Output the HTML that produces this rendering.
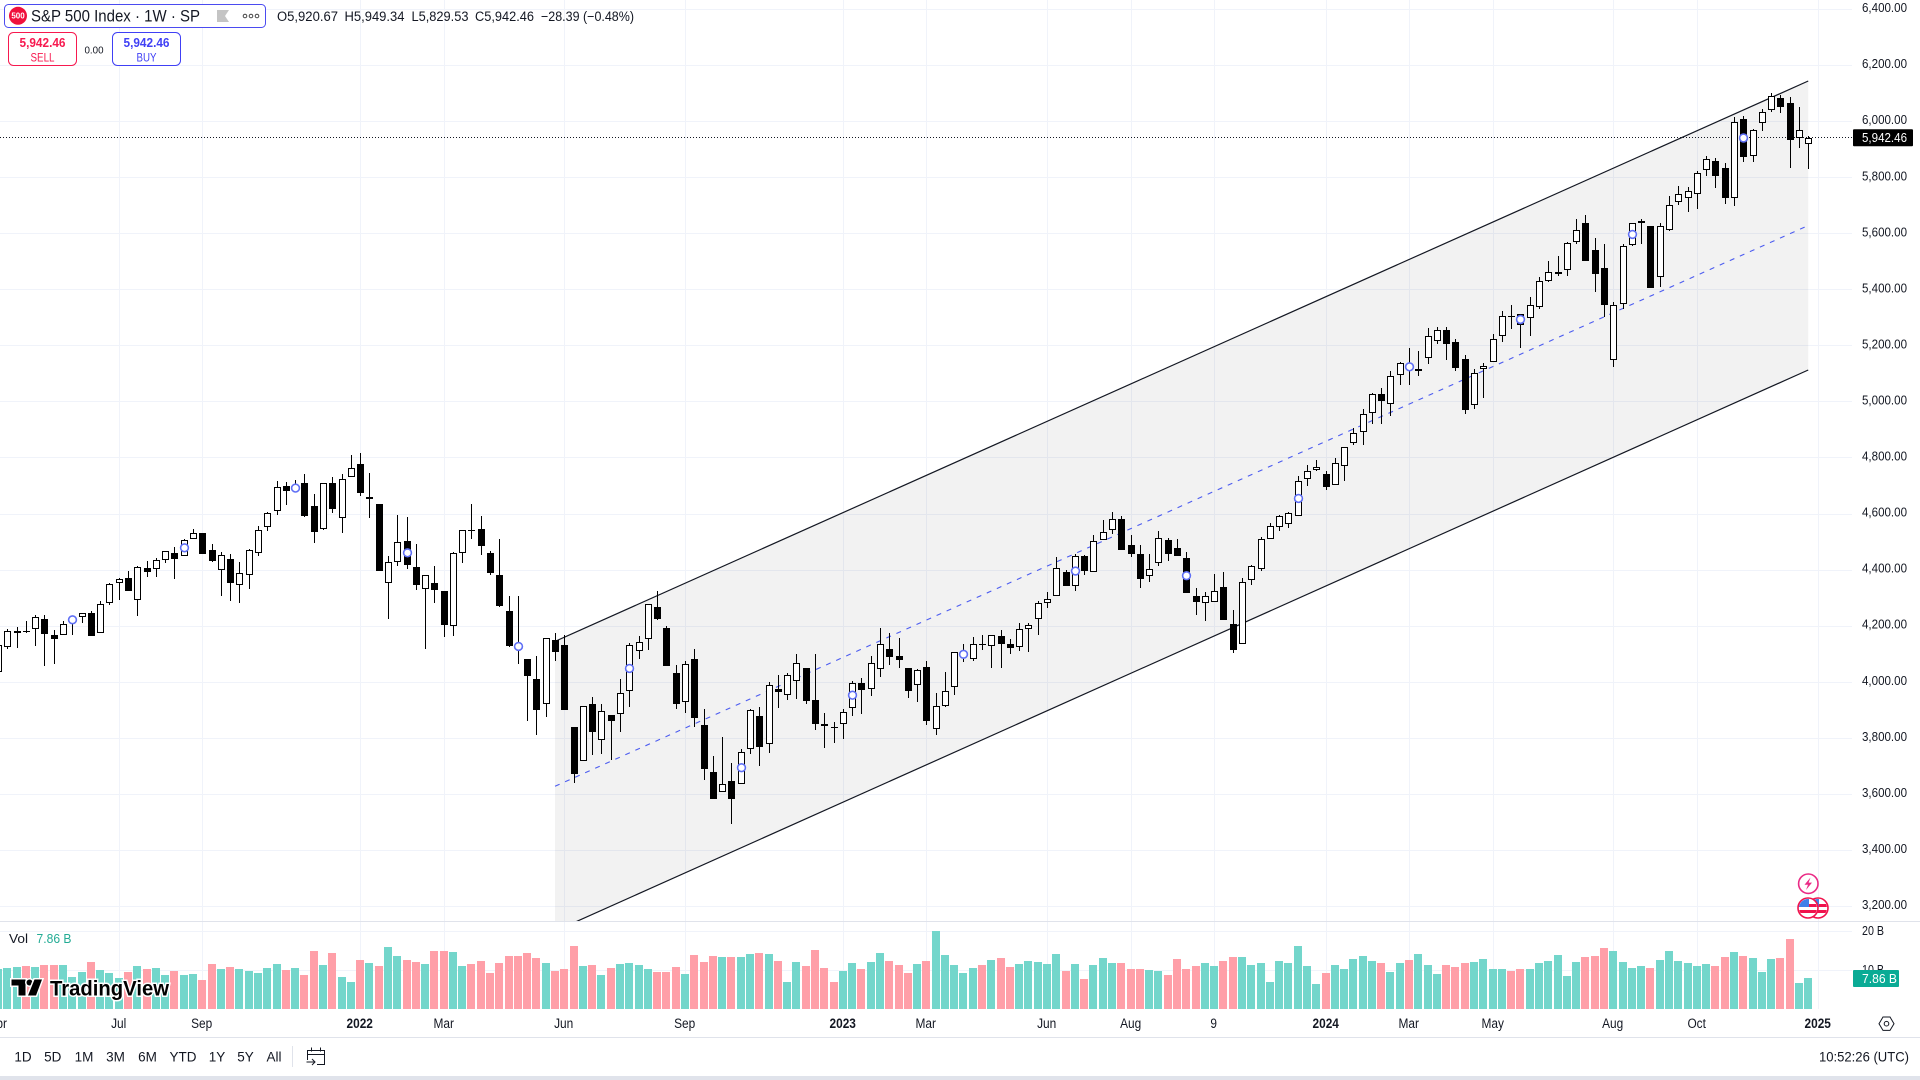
<!DOCTYPE html>
<html lang="en">
<head>
<meta charset="utf-8">
<title>S&amp;P 500 Index weekly chart</title>
<style>
html,body{margin:0;padding:0;background:#fff;width:1920px;height:1080px;overflow:hidden}
svg{display:block}
text{font-family:"Liberation Sans",sans-serif;fill:#131722}
</style>
</head>
<body>
<svg id="chart" xmlns="http://www.w3.org/2000/svg" width="1920" height="1080" viewBox="0 0 1920 1080">
  <defs>
    <clipPath id="pricePane"><rect x="0" y="0" width="1852" height="921"/></clipPath>
    <clipPath id="flagA"><circle cx="1808" cy="908" r="9"/></clipPath>
    <clipPath id="flagB"><circle cx="1818" cy="908" r="9"/></clipPath>
  </defs>
  <rect x="0" y="0" width="1920" height="1080" fill="#ffffff"/>
  <g id="gridLayer"></g>
  <g id="channelLayer" clip-path="url(#pricePane)"></g>
  <g id="lastPriceLayer"></g>
  <g id="volumeLayer"></g>
  <g id="candleLayer" clip-path="url(#pricePane)"></g>
  <g id="markerLayer" clip-path="url(#pricePane)"></g>

  <!-- panes separators -->
  <rect x="0" y="921" width="1920" height="1" fill="#e0e3eb"/>
  <rect x="0" y="1037" width="1920" height="1" fill="#e0e3eb"/>
  <rect x="0" y="1076" width="1920" height="4" fill="#e0e3eb"/>

  <g id="axisLayer"></g>

  <!-- legend header -->
  <g>
    <rect x="4.5" y="4.5" width="261" height="23" rx="4" fill="#fff" stroke="#4b4bf0" stroke-width="1"/>
    <circle cx="18" cy="15.8" r="9" fill="#f0103c"/>
    <text x="18" y="18.6" text-anchor="middle" font-size="8" font-weight="bold" style="fill:#fff">500</text>
    <text x="31" y="21.5" font-size="16.5" textLength="169" lengthAdjust="spacingAndGlyphs">S&amp;P 500 Index · 1W · SP</text>
    <polygon points="217,10 229,10 225,16 229,22 217,22" fill="#c4c4c4"/>
    <g fill="none" stroke="#444" stroke-width="1">
      <circle cx="245" cy="16" r="1.8"/><circle cx="251" cy="16" r="1.8"/><circle cx="257" cy="16" r="1.8"/>
    </g>
  </g>
  <g font-size="13.5">
    <text x="277" y="20.8" textLength="61" lengthAdjust="spacingAndGlyphs">O5,920.67</text>
    <text x="344.5" y="20.8" textLength="60" lengthAdjust="spacingAndGlyphs">H5,949.34</text>
    <text x="411.5" y="20.8" textLength="57" lengthAdjust="spacingAndGlyphs">L5,829.53</text>
    <text x="475" y="20.8" textLength="59" lengthAdjust="spacingAndGlyphs">C5,942.46</text>
    <text x="541" y="20.8" textLength="93" lengthAdjust="spacingAndGlyphs">−28.39 (−0.48%)</text>
  </g>
  <g>
    <rect x="8.5" y="32.5" width="68" height="33" rx="5" fill="#fff" stroke="#f7194f"/>
    <text x="42.5" y="47" text-anchor="middle" font-size="13" font-weight="bold" style="fill:#f7194f" textLength="46" lengthAdjust="spacingAndGlyphs">5,942.46</text>
    <text x="42.5" y="61.5" text-anchor="middle" font-size="11.5" style="fill:#f7194f" textLength="24" lengthAdjust="spacingAndGlyphs">SELL</text>
  </g>
  <text x="94" y="53.5" text-anchor="middle" font-size="10.5" textLength="19" lengthAdjust="spacingAndGlyphs">0.00</text>
  <g>
    <rect x="112.5" y="32.5" width="68" height="33" rx="5" fill="#fff" stroke="#4040f5"/>
    <text x="146.5" y="47" text-anchor="middle" font-size="13" font-weight="bold" style="fill:#4040f5" textLength="46" lengthAdjust="spacingAndGlyphs">5,942.46</text>
    <text x="146.5" y="61.5" text-anchor="middle" font-size="11.5" style="fill:#4040f5" textLength="20" lengthAdjust="spacingAndGlyphs">BUY</text>
  </g>

  <!-- volume legend -->
  <text x="9" y="943" font-size="13" textLength="19" lengthAdjust="spacingAndGlyphs">Vol</text>
  <text x="36.5" y="943" font-size="13" style="fill:#22ab94" textLength="35" lengthAdjust="spacingAndGlyphs">7.86 B</text>

  <!-- watermark -->
  <g>
    <g fill="#000" stroke="#fff" stroke-width="3" paint-order="stroke">
      <polygon points="11.5,979.5 25.5,979.5 25.5,995.5 18.5,995.5 18.5,985.5 11.5,985.5"/>
      <circle cx="29.5" cy="982.5" r="3"/>
      <polygon points="34.5,979.5 42,979.5 36,995.5 28,995.5"/>
    </g>
    <text x="50" y="995.5" font-size="21" font-weight="bold" textLength="119" lengthAdjust="spacingAndGlyphs" stroke="#fff" stroke-width="3" paint-order="stroke" style="fill:#000">TradingView</text>
  </g>

  <!-- event icons -->
  <g>
    <circle cx="1808.3" cy="883.7" r="9.7" fill="#fff" stroke="#ea2a85" stroke-width="1.6"/>
    <polygon points="1810.5,877.5 1804.5,884.8 1808,884.8 1806,890 1812,882.6 1808.6,882.6" fill="#ea2a85"/>
  </g>
  <g>
    <circle cx="1818" cy="908" r="10" fill="#fff" stroke="#f0134d" stroke-width="1.6"/>
    <g clip-path="url(#flagB)">
      <rect x="1809" y="899" width="18" height="18" fill="#fff"/>
      <rect x="1809" y="904" width="18" height="3" fill="#f0134d"/>
      <rect x="1809" y="910" width="18" height="3" fill="#f0134d"/>
      <rect x="1809" y="899" width="10" height="8" fill="#3f7fe8"/>
    </g>
  </g>
  <g>
    <circle cx="1808" cy="908" r="10" fill="#fff" stroke="#f0134d" stroke-width="1.6"/>
    <g clip-path="url(#flagA)">
      <rect x="1799" y="899" width="18" height="18" fill="#fff"/>
      <rect x="1799" y="904" width="18" height="3" fill="#f0134d"/>
      <rect x="1799" y="910" width="18" height="3" fill="#f0134d"/>
      <rect x="1799" y="899" width="10" height="8" fill="#3f7fe8"/>
    </g>
  </g>

  <!-- settings -->
  <g fill="none" stroke="#131722" stroke-width="1">
    <polygon points="1879,1023.7 1883,1017 1890,1017 1894,1023.7 1890,1030.4 1883,1030.4"/>
    <circle cx="1886.5" cy="1023.7" r="2.3"/>
  </g>

  <!-- bottom toolbar -->
  <g font-size="13.5" text-anchor="middle">
    <text x="23" y="1061.5">1D</text>
    <text x="52.7" y="1061.5">5D</text>
    <text x="84" y="1061.5">1M</text>
    <text x="115.5" y="1061.5">3M</text>
    <text x="147.5" y="1061.5">6M</text>
    <text x="183" y="1061.5">YTD</text>
    <text x="217" y="1061.5">1Y</text>
    <text x="245.5" y="1061.5">5Y</text>
    <text x="274" y="1061.5">All</text>
  </g>
  <rect x="292" y="1046" width="1" height="21" fill="#e0e3eb"/>
  <g fill="none" stroke="#131722" stroke-width="1">
    <path d="M307.5 1060 V1050.5 H324.5 V1064.5 H317"/>
    <path d="M307.5 1054.5 H324.5"/>
    <path d="M311.5 1047.5 V1051.5 M320.5 1047.5 V1051.5"/>
    <path d="M306.5 1062 H315 M312 1059 L315 1062 L312 1065"/>
  </g>
  <text x="1819" y="1061.5" font-size="14" textLength="90" lengthAdjust="spacingAndGlyphs">10:52:26 (UTC)</text>
</svg>

<script>
// ---------- chart data ----------
const opens = [4035,
4124,4179,4184,4191,4227,4170,4170,4214,4231,4248,
4174,4284,4355,4373,4295,4409,4405,4437,4462,4451,
4512,4533,4473,4401,4441,4348,4384,4462,4555,4612,
4701,4684,4711,4629,4547,4711,4587,4733,4779,4654,
4634,4355,4430,4505,4412,4334,4355,4327,4202,4462,
4544,4547,4462,4384,4255,4135,4081,4013,3921,4152,
4134,3839,3718,3921,3793,3882,3885,3967,4113,4154,
4268,4194,4033,3930,4083,3848,3681,3610,3649,3638,
3763,3880,3780,3976,3955,4005,4051,3937,3852,3841,
3852,3909,3998,3976,4047,4119,4094,4051,3991,4055,
3834,3916,3983,4089,4082,4136,4129,4165,4136,4126,
4190,4225,4282,4307,4393,4343,4450,4393,4507,4542,
4582,4489,4457,4379,4425,4507,4478,4443,4307,4282,
4286,4339,4208,4136,4364,4403,4510,4553,4564,4593,
4725,4757,4743,4703,4771,4853,4893,4959,5027,4991,
5095,5132,5112,5155,5219,5258,5212,5152,4988,5116,
5144,5234,5305,5312,5298,5340,5433,5461,5472,5572,
5639,5543,5476,5151,5351,5558,5640,5626,5444,5615,
5712,5726,5740,5829,5858,5833,5726,6011,5876,5994,
6040,6083,6065,5940,5920.67];

const highs = [4135,
4191,4196,4220,4238,4238,4188,4220,4236,4248,4255,
4289,4355,4373,4396,4416,4431,4442,4469,4481,4512,
4545,4533,4494,4466,4458,4430,4476,4558,4607,4718,
4715,4720,4743,4672,4711,4733,4741,4809,4818,4747,
4634,4451,4595,4591,4492,4384,4416,4327,4466,4544,
4636,4594,4469,4512,4309,4309,4081,4092,4159,4177,
4170,3839,3914,3946,3921,3882,4013,4141,4166,4279,
4325,4201,4062,4076,4119,3905,3738,3805,3713,3763,
3905,3912,4001,4026,4033,4101,4051,4101,3891,3858,
3905,4005,4015,4094,4194,4176,4158,4051,4047,4076,
3962,4037,4108,4135,4162,4168,4168,4186,4154,4211,
4211,4289,4322,4446,4400,4457,4453,4525,4578,4606,
4592,4525,4489,4457,4539,4514,4510,4464,4336,4322,
4386,4393,4257,4371,4418,4517,4567,4596,4607,4736,
4775,4793,4754,4800,4839,4907,4975,5031,5048,5112,
5141,5191,5180,5262,5266,5266,5226,5169,5116,5140,
5241,5326,5344,5315,5376,5447,5504,5522,5572,5654,
5668,5586,5565,5358,5562,5640,5651,5626,5637,5733,
5769,5765,5822,5879,5869,5851,6015,6019,5972,6044,
6101,6094,6086,6051,5949.34];

const lows = [4020,
4119,4122,4176,4130,4058,4066,4168,4168,4210,4165,
4174,4276,4293,4325,4236,4375,4375,4425,4368,4450,
4512,4457,4429,4308,4290,4283,4333,4450,4539,4597,
4632,4684,4589,4496,4544,4603,4532,4733,4664,4585,
4397,4226,4415,4404,4329,4119,4283,4162,4165,4425,
4511,4454,4382,4269,4126,4066,3863,3813,3877,4076,
3902,3642,3718,3741,3745,3724,3823,3912,4083,4114,
4221,4057,3904,3890,3840,3651,3583,3610,3494,3638,
3744,3701,3747,3907,3936,3939,3922,3829,3765,3783,
3797,3879,3886,3950,4018,4061,4050,3943,3929,3847,
3811,3911,3954,4071,4076,4114,4050,4050,4100,4110,
4107,4167,4263,4307,4342,4327,4384,4393,4507,4530,
4473,4445,4335,4356,4416,4431,4449,4317,4238,4217,
4286,4222,4103,4136,4345,4395,4510,4538,4549,4593,
4699,4754,4684,4703,4717,4846,4846,4922,4922,4951,
5061,5061,5093,5136,5207,5150,5111,4958,4974,5015,
5144,5213,5261,5193,5236,5330,5426,5450,5450,5565,
5501,5393,5303,5123,5330,5555,5564,5407,5410,5608,
5704,5678,5689,5807,5764,5707,5700,5857,5857,5967,
6036,6032,5835,5907,5829.53];

const closes = [4131,
4184,4181,4179,4234,4172,4155,4206,4231,4248,4165,
4280,4352,4369,4325,4412,4393,4437,4469,4439,4508,
4533,4457,4432,4455,4354,4391,4473,4544,4604,4697,
4682,4701,4593,4536,4711,4617,4725,4765,4674,4661,
4397,4430,4501,4418,4347,4384,4329,4204,4462,4544,
4539,4486,4390,4272,4130,4120,4023,3902,4159,4108,
3902,3674,3914,3823,3899,3863,3963,4131,4145,4279,
4224,4057,3922,4065,3872,3690,3583,3638,3583,3752,
3901,3769,3991,3964,4026,4069,3932,3850,3843,3836,
3894,3998,3972,4069,4137,4090,4080,3968,4044,3861,
3916,3969,4108,4110,4136,4132,4168,4135,4121,4190,
4204,4282,4297,4407,4344,4450,4395,4503,4535,4582,
4473,4459,4367,4403,4514,4456,4449,4317,4285,4306,
4325,4222,4114,4357,4414,4510,4557,4592,4604,4718,
4754,4768,4696,4782,4839,4889,4957,5027,5004,5091,
5137,5118,5118,5234,5255,5205,5122,4970,5102,5129,
5223,5305,5304,5276,5347,5433,5465,5463,5568,5615,
5503,5458,5346,5344,5555,5637,5647,5407,5626,5704,
5740,5751,5815,5865,5807,5729,5997,5872,5969,6033,
6090,6051,5933,5971,5942.46];

const volumes = [10.3,
10.4,10.8,11.0,10.8,11.3,11.3,11.3,8.2,9.5,12.1,
10.0,9.2,7.9,9.5,11.0,10.3,10.5,8.7,9.7,8.7,
9.0,7.4,11.5,10.3,10.8,10.3,9.7,9.2,10.5,11.5,
10.0,10.5,8.7,14.9,11.3,14.4,8.2,6.9,12.6,11.8,
11.0,15.9,13.6,12.6,12.1,11.5,14.9,14.9,14.6,11.0,
11.5,12.3,9.2,11.8,13.6,13.6,14.4,13.1,11.8,9.7,
10.3,16.2,11.0,11.3,8.7,10.5,11.5,11.8,11.3,10.3,
9.5,9.5,10.8,9.0,13.8,12.1,13.6,13.3,13.3,13.3,
14.1,14.4,14.1,12.3,6.9,12.1,11.0,15.1,10.5,6.9,
9.7,11.8,10.3,12.1,14.4,12.3,11.3,9.2,11.5,12.3,
20.0,13.8,11.3,9.2,10.5,11.3,12.6,13.1,10.8,11.5,
12.3,12.1,11.5,14.1,9.7,11.5,7.7,11.3,13.1,11.8,
11.8,10.3,10.3,10.0,9.7,8.7,12.8,10.3,11.0,11.8,
11.0,12.3,13.3,13.3,11.3,11.8,6.9,12.3,11.8,16.2,
11.0,6.4,9.2,11.3,10.3,12.8,13.6,12.3,11.8,9.5,
11.8,12.6,14.1,11.3,9.0,11.3,10.8,11.8,12.1,12.8,
10.3,10.3,9.7,10.3,10.3,11.8,12.3,13.8,8.5,12.1,
13.3,13.6,15.6,14.9,12.1,10.5,11.0,10.5,12.6,14.9,
12.3,11.8,11.0,11.5,11.0,13.3,14.6,13.6,13.1,9.5,
12.8,13.1,17.9,6.7,7.86];

const markerWeeks = [8,20,32,44,56,68,80,92,104,116,128,140,152,164,176,188];

const priceTicks = [6400,6200,6000,5800,5600,5400,5200,5000,4800,4600,4400,4200,4000,3800,3600,3400,3200];
const volumeTicks = [20,10];
const timeTickWeeks = [0,13,22,39,48,61,74,91,100,113,122,131,143,152,161,174,183,196];
const timeTickLabels = ["Apr","Jul","Sep","2022","Mar","Jun","Sep","2023","Mar","Jun","Aug","9","2024","Mar","May","Aug","Oct","2025"];

const channelWeeks = [60,195];
const channelUpper = [4145.6,6144.8];
const channelLower = [3112,5113.8];

// ---------- axis functions ----------
const svgNS = "http://www.w3.org/2000/svg";
function xAt(i){ return -1.95 + 9.283 * i; }
function priceY(p){ return 121.6 + (6000 - p) * 0.2803; }
function volumeY(v){ return 1009 - 3.9 * v; }
function fmtPrice(p){ return p.toLocaleString("en-US",{minimumFractionDigits:2,maximumFractionDigits:2}); }
function make(tag, parent, attrs){
  const el = document.createElementNS(svgNS, tag);
  for (const k in attrs) el.setAttribute(k, attrs[k]);
  parent.appendChild(el);
  return el;
}

const gridLayer = document.getElementById("gridLayer");
const axisLayer = document.getElementById("axisLayer");
const channelLayer = document.getElementById("channelLayer");
const lastPriceLayer = document.getElementById("lastPriceLayer");
const volumeLayer = document.getElementById("volumeLayer");
const candleLayer = document.getElementById("candleLayer");
const markerLayer = document.getElementById("markerLayer");
const gridColor = "#f0f3fa";

// vertical grid + time labels
timeTickWeeks.forEach(function(w, k){
  const x = Math.round(xAt(w));
  const line1 = make("rect", gridLayer, {x:x, y:0, width:1, height:921, fill:gridColor});
  
  
  const line2 = make("rect", gridLayer, {x:x, y:922, width:1, height:87, fill:gridColor});
  
  
  const isYear = /^\d{4}$/.test(timeTickLabels[k]);
  const t = make("text", axisLayer, {x:x-0.3, y:1028, "text-anchor":"middle", "font-size":"13.5", "font-weight":isYear?"bold":"normal"});
  t.textContent = timeTickLabels[k];
  
  
  t.setAttribute('textLength', (t.getComputedTextLength() * 0.88).toFixed(1));
  t.setAttribute('lengthAdjust', 'spacingAndGlyphs');
});

// horizontal grid + price labels
priceTicks.forEach(function(p){
  const y = Math.floor(priceY(p));
  const line = make("rect", gridLayer, {x:0, y:y, width:1852, height:1, fill:gridColor});
  
  
  const t = make("text", axisLayer, {x:1862, y:priceY(p)+2.6, "font-size":"13", textLength:"45", lengthAdjust:"spacingAndGlyphs"});
  t.textContent = fmtPrice(p);
  
  
});

// volume grid + labels
volumeTicks.forEach(function(v){
  const y = Math.floor(volumeY(v));
  const line = make("rect", gridLayer, {x:0, y:y, width:1852, height:1, fill:gridColor});
  
  
  const t = make("text", axisLayer, {x:1862, y:volumeY(v)+4, "font-size":"13", textLength:"22", lengthAdjust:"spacingAndGlyphs"});
  t.textContent = v + " B";
  
  
});

// channel
const cx0 = xAt(channelWeeks[0]), cx1 = xAt(channelWeeks[1]);
const uy0 = priceY(channelUpper[0]), uy1 = priceY(channelUpper[1]);
const ly0 = priceY(channelLower[0]), ly1 = priceY(channelLower[1]);
const channelFill = make("polygon", channelLayer, {points:cx0+","+uy0+" "+cx1+","+uy1+" "+cx1+","+ly1+" "+cx0+","+ly0, fill:"#000", "fill-opacity":"0.05"});


const upperLine = make("line", channelLayer, {x1:cx0, y1:uy0, x2:cx1, y2:uy1, stroke:"#131722", "stroke-width":"1.2"});


const lowerLine = make("line", channelLayer, {x1:cx0, y1:ly0, x2:cx1, y2:ly1, stroke:"#131722", "stroke-width":"1.2"});


const midLine = make("line", channelLayer, {x1:cx0, y1:(uy0+ly0)/2, x2:cx1, y2:(uy1+ly1)/2, stroke:"#4c5cf0", "stroke-width":"1.1", "stroke-dasharray":"5 6"});



// last price line
const lastClose = closes[closes.length-1];
const lastY = Math.floor(priceY(lastClose)) + 0.5;
const lastLine = make("line", lastPriceLayer, {x1:0, y1:lastY, x2:1853, y2:lastY, stroke:"#131722", "stroke-width":"1", "stroke-dasharray":"1 2"});



// volume bars
volumes.forEach(function(v, i){
  const c = Math.round(xAt(i));
  const top = Math.round(volumeY(v));
  const up = closes[i] >= opens[i];
  const bar = make("rect", volumeLayer, {x:c-4, y:top, width:8, height:1009-top, fill:up?"#73d6cb":"#ff9fa8"});
  
  
});

// candles
opens.forEach(function(o, i){
  const c = Math.round(xAt(i));
  const cl = closes[i];
  const hy = Math.round(priceY(highs[i]));
  const ly = Math.round(priceY(lows[i]));
  const top = Math.round(priceY(Math.max(o, cl)));
  const bot = Math.max(top + 1, Math.round(priceY(Math.min(o, cl))));
  const wick = make("rect", candleLayer, {x:c, y:hy, width:1, height:Math.max(1, ly-hy), fill:"#000"});
  
  
  let body;
  if (cl >= o) {
    const h = bot - top;
    body = make("rect", candleLayer, {x:c-2.5, y:top+0.5, width:6, height:Math.max(1, h-1), fill:"#fff", stroke:"#000", "stroke-width":"1"});
  } else {
    body = make("rect", candleLayer, {x:c-3, y:top, width:7, height:bot-top, fill:"#000"});
  }
  
  
});

// markers
markerWeeks.forEach(function(i){
  const m = make("circle", markerLayer, {cx:Math.round(xAt(i))+0.5, cy:priceY((opens[i]+closes[i])/2), r:3.9, fill:"#fff", stroke:"#6070f5", "stroke-width":"1.6"});
  
  
});

// last price tag
const tagCenter = priceY(lastClose);
const priceTag = make("rect", axisLayer, {x:1853, y:tagCenter-8.5, width:60, height:17, rx:1, fill:"#000"});


const priceTagText = make("text", axisLayer, {x:1862, y:tagCenter+4.3, "font-size":"13", textLength:"45", lengthAdjust:"spacingAndGlyphs", style:"fill:#fff"});
priceTagText.textContent = fmtPrice(lastClose);



// last volume tag
const lastVol = volumes[volumes.length-1];
const volCenter = volumeY(lastVol);
const volTag = make("rect", axisLayer, {x:1853, y:volCenter-8.3, width:46, height:17, rx:1, fill:"#0aab95"});


const volTagText = make("text", axisLayer, {x:1862, y:volCenter+4.5, "font-size":"13", textLength:"35", lengthAdjust:"spacingAndGlyphs", style:"fill:#fff"});
volTagText.textContent = lastVol.toFixed(2) + " B";


</script>
</body>
</html>
